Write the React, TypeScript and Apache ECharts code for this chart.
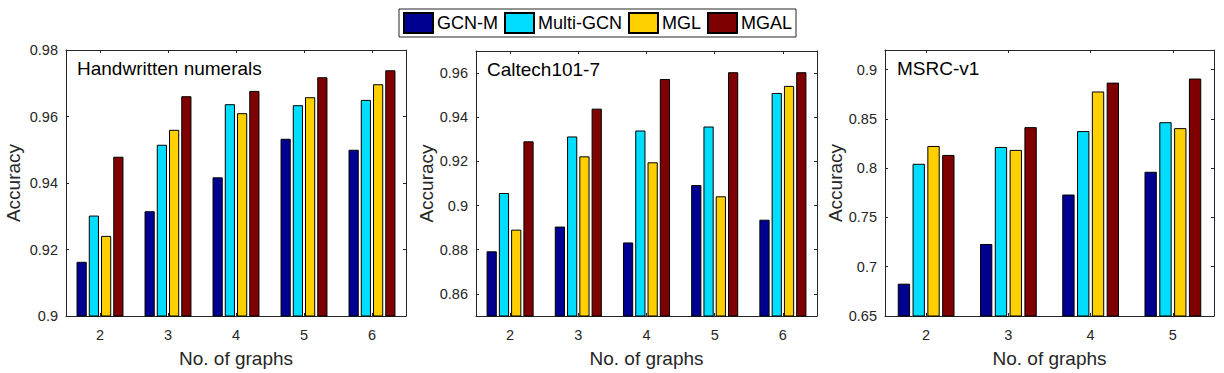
import React, { useEffect, useRef } from "react";
import * as echarts from "echarts";

const seriesNames = ["GCN-M", "Multi-GCN", "MGL", "MGAL"];
const seriesColors = ["#000090", "#00DDFF", "#FFD000", "#7F0000"];

const hwCategories = ["2", "3", "4", "5", "6"];
const hwGcnM = [0.9163, 0.9315, 0.9417, 0.9533, 0.95];
const hwMultiGcn = [0.9302, 0.9515, 0.9637, 0.9634, 0.965];
const hwMgl = [0.9241, 0.956, 0.961, 0.9658, 0.9697];
const hwMgal = [0.9479, 0.9661, 0.9677, 0.9718, 0.9739];
const hwTicks = [0.9, 0.92, 0.94, 0.96, 0.98];

const ctCategories = ["2", "3", "4", "5", "6"];
const ctGcnM = [0.8793, 0.8905, 0.8833, 0.9093, 0.8936];
const ctMultiGcn = [0.9057, 0.9313, 0.934, 0.9358, 0.951];
const ctMgl = [0.8891, 0.9223, 0.9196, 0.9042, 0.9542];
const ctMgal = [0.9291, 0.9439, 0.9573, 0.9604, 0.9604];
const ctTicks = [0.86, 0.88, 0.9, 0.92, 0.94, 0.96];

const msCategories = ["2", "3", "4", "5"];
const msGcnM = [0.6828, 0.7231, 0.7733, 0.7964];
const msMultiGcn = [0.8045, 0.8216, 0.8377, 0.8467];
const msMgl = [0.8226, 0.8186, 0.8779, 0.8407];
const msMgal = [0.8135, 0.8417, 0.8869, 0.891];
const msTicks = [0.65, 0.7, 0.75, 0.8, 0.85, 0.9];

const panelTitles = ["Handwritten numerals", "Caltech101-7", "MSRC-v1"];

const FONT = "'Liberation Sans', Arial, Helvetica, sans-serif";
const AXIS_COLOR = "#262626";

export default function App() {
  const ref = useRef<HTMLDivElement>(null);

  useEffect(() => {
    if (!ref.current) return;
    const chart = echarts.init(ref.current, undefined, { renderer: "svg" });

    const panels = [
      {
        grid: { left: 66, top: 50, width: 340, height: 268 },
        cats: hwCategories,
        data: [hwGcnM, hwMultiGcn, hwMgl, hwMgal],
        min: 0.9, max: 0.98, ticks: hwTicks, nameGap: 43,
        title: { x: 77, y: 70 },
      },
      {
        grid: { left: 476, top: 51, width: 341, height: 266 },
        cats: ctCategories,
        data: [ctGcnM, ctMultiGcn, ctMgl, ctMgal],
        min: 0.85, max: 0.97, ticks: ctTicks, nameGap: 39,
        title: { x: 487, y: 71 },
      },
      {
        grid: { left: 885, top: 50, width: 329, height: 268 },
        cats: msCategories,
        data: [msGcnM, msMultiGcn, msMgl, msMgal],
        min: 0.65, max: 0.92, ticks: msTicks, nameGap: 38,
        title: { x: 897, y: 70 },
      },
    ];

    const grids: any[] = [];
    const xAxes: any[] = [];
    const yAxes: any[] = [];
    const series: any[] = [];
    const graphics: any[] = [];

    const lineStyle = { color: AXIS_COLOR, width: 1 };

    panels.forEach((p, i) => {
      grids.push({ ...p.grid, containLabel: false });
      xAxes.push({
        type: "category",
        gridIndex: i,
        position: "bottom",
        data: p.cats,
        axisLine: { show: true, lineStyle },
        axisTick: { show: true, inside: true, length: 3, alignWithLabel: true, lineStyle },
        axisLabel: { color: AXIS_COLOR, fontSize: 14.5, fontFamily: FONT, margin: 11 },
        name: "No. of graphs",
        nameLocation: "middle",
        nameGap: 33,
        nameTextStyle: { color: AXIS_COLOR, fontSize: 19, fontFamily: FONT },
        splitLine: { show: false },
      });
      xAxes.push({
        type: "category",
        gridIndex: i,
        position: "top",
        data: p.cats,
        axisLine: { show: true, lineStyle },
        axisTick: { show: true, inside: true, length: 3, alignWithLabel: true, lineStyle },
        axisLabel: { show: false },
        splitLine: { show: false },
      });
      yAxes.push({
        type: "value",
        gridIndex: i,
        position: "left",
        min: p.min,
        max: p.max,
        axisLine: { show: true, lineStyle },
        axisTick: { show: true, inside: true, length: 3, lineStyle, customValues: p.ticks },
        axisLabel: { color: AXIS_COLOR, fontSize: 14.5, fontFamily: FONT, margin: 8, customValues: p.ticks },
        splitLine: { show: false },
        name: "Accuracy",
        nameLocation: "middle",
        nameGap: p.nameGap,
        nameRotate: 90,
        nameTextStyle: { color: AXIS_COLOR, fontSize: 19, fontFamily: FONT },
      });
      yAxes.push({
        type: "value",
        gridIndex: i,
        position: "right",
        min: p.min,
        max: p.max,
        axisLine: { show: true, lineStyle },
        axisTick: { show: true, inside: true, length: 3, lineStyle, customValues: p.ticks },
        axisLabel: { show: false },
        splitLine: { show: false },
      });
      p.data.forEach((vals, k) => {
        series.push({
          type: "bar",
          name: seriesNames[k],
          xAxisIndex: i * 2,
          yAxisIndex: i * 2,
          data: vals,
          barWidth: "15%",
          barGap: "20%",
          itemStyle: { color: seriesColors[k], borderColor: "#000", borderWidth: 1 },
          emphasis: { disabled: true },
        });
      });
      graphics.push({
        type: "text",
        left: p.title.x,
        top: p.title.y - 11,
        style: { text: panelTitles[i], fill: "#000", fontSize: 19, fontFamily: FONT },
        z: 100,
      });
    });

    chart.setOption({
      animation: false,
      backgroundColor: "#fff",
      legend: {
        data: seriesNames,
        left: 399,
        top: 9,
        orient: "horizontal",
        icon: "rect",
        itemWidth: 29,
        itemHeight: 20,
        itemGap: 6,
        padding: [3, 4, 3, 4],
        borderColor: AXIS_COLOR,
        borderWidth: 1,
        selectedMode: false,
        textStyle: { color: "#000", fontSize: 18, fontFamily: FONT, padding: [0, 0, 0, -1] },
      },
      grid: grids,
      xAxis: xAxes,
      yAxis: yAxes,
      series,
      graphic: graphics,
    });

    return () => chart.dispose();
  }, []);

  return (
    <div
      ref={ref}
      style={{ position: "fixed", left: 0, top: 0, width: 1224, height: 373, background: "#fff" }}
    />
  );
}
